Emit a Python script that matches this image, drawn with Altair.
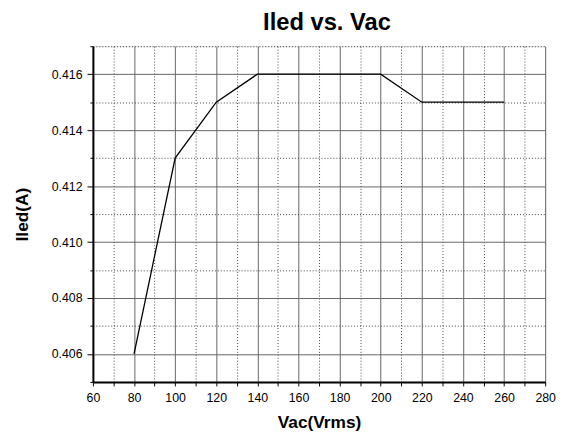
import altair as alt
import pandas as pd

vac = [80, 100, 120, 140, 160, 180, 200, 220, 240, 260]
iled = [0.406, 0.413, 0.415, 0.416, 0.416, 0.416, 0.416, 0.415, 0.415, 0.415]
x_ticks = list(range(60, 281, 10))
y_ticks = [round(0.405 + 0.001 * i, 3) for i in range(13)]

df = pd.DataFrame({"Vac": vac, "Iled": iled})

font = "Liberation Sans"
xmaj = "datum.value % 20 === 0"
ymaj = "round(datum.value*1000) % 2 === 0"

common = dict(gridOpacity=1, gridWidth=1, tickColor="black", tickWidth=1,
              domainColor="black", domainWidth=2,
              labelFont=font, labelFontSize=12.5, labelColor="black", labelFlush=False,
              titleFont=font, titleFontSize=17.5, titleFontWeight="bold", titleColor="black")

chart = alt.Chart(df).mark_line(color="black", strokeWidth=1.3).encode(
    x=alt.X("Vac:Q", title="Vac(Vrms)",
            scale=alt.Scale(domain=[60, 280], nice=False, zero=False),
            axis=alt.Axis(values=x_ticks,
                          labelExpr=xmaj + " ? datum.label : ''",
                          gridDash={"condition": {"test": xmaj, "value": []}, "value": [1, 2]},
                          gridColor={"condition": {"test": xmaj, "value": "#666666"}, "value": "#444444"},
                          tickSize=4, labelPadding=6, titlePadding=10, **common)),
    y=alt.Y("Iled:Q", title="Iled(A)",
            scale=alt.Scale(domain=[0.405, 0.417], nice=False, zero=False),
            axis=alt.Axis(values=y_ticks, format=".3f",
                          labelExpr=ymaj + " ? datum.label : ''",
                          gridDash={"condition": {"test": ymaj, "value": []}, "value": [1, 2]},
                          gridColor={"condition": {"test": ymaj, "value": "#666666"}, "value": "#444444"},
                          tickSize={"condition": {"test": ymaj, "value": 6}, "value": 3},
                          labelPadding=5, titlePadding=20, **common)),
).properties(
    width=458, height=340,
    title=alt.Title("Iled vs. Vac", font=font, fontSize=24, fontWeight="bold", color="black",
                    offset=11, dx=8),
    autosize=alt.AutoSizeParams(type="none"),
    padding={"left": 86, "top": 36, "right": 14, "bottom": 50},
).configure_view(stroke="black", strokeWidth=1.5).configure(background="white")

chart.save("out.html", embed_options={"renderer": "svg", "actions": False})
